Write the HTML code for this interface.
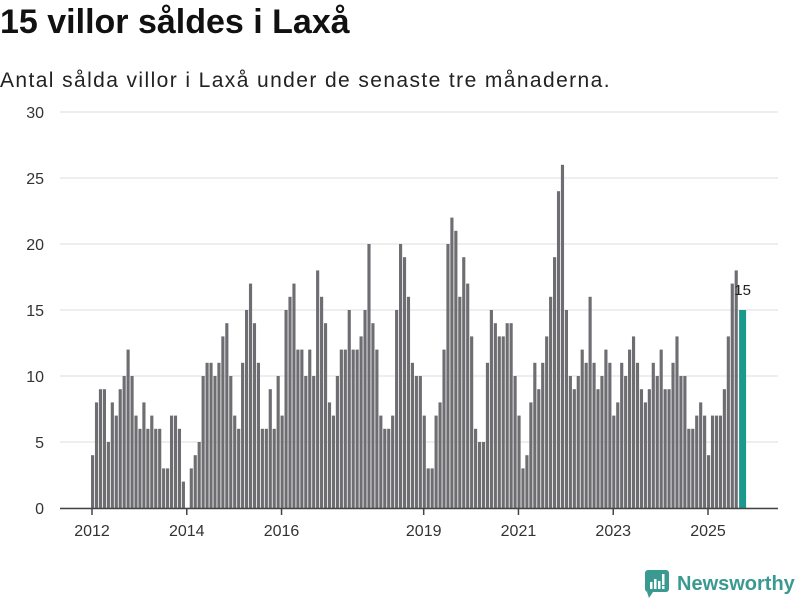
<!DOCTYPE html>
<html><head><meta charset="utf-8"><style>
body{margin:0;width:800px;height:600px;background:#fff;font-family:"Liberation Sans",sans-serif;overflow:hidden;position:relative}
h1{position:absolute;left:0;top:3px;margin:0;font-size:34px;font-weight:bold;color:#111;white-space:nowrap}
.sub{position:absolute;left:0;top:69px;font-size:21px;letter-spacing:1.4px;color:#222;white-space:nowrap}
</style></head><body>
<h1>15 villor såldes i Laxå</h1>
<div class="sub">Antal sålda villor i Laxå under de senaste tre månaderna.</div>
<svg id="c" width="800" height="600" style="position:absolute;left:0;top:0"></svg>
<div style="position:absolute;left:645px;top:570px;display:flex;align-items:center">
<svg width="24" height="28"><rect x="0" y="0" width="24" height="22" rx="3" fill="#3a9a91"/><polygon points="2,22 8,22 4,28" fill="#3a9a91"/><rect x="5" y="12" width="2.5" height="7" fill="#fff"/><rect x="9" y="9" width="2.5" height="10" fill="#fff"/><rect x="13" y="11" width="2.5" height="8" fill="#fff"/><rect x="17" y="4" width="2.5" height="11" fill="#fff"/><rect x="17" y="16" width="2.5" height="3" fill="#fff"/></svg>
<span style="color:#3a9a91;font-size:20px;font-weight:bold;margin-left:8px">Newsworthy</span></div>
<script>
const values=[4,8,9,9,5,8,7,9,10,12,10,7,
6,8,6,7,6,6,3,3,7,7,6,2,
0,3,4,5,10,11,11,10,11,13,14,10,
7,6,11,15,17,14,11,6,6,9,6,10,
7,15,16,17,12,12,10,12,10,18,16,14,
8,7,10,12,12,15,12,12,13,15,20,14,
12,7,6,6,7,15,20,19,16,11,10,10,
7,3,3,7,8,12,20,22,21,16,19,17,
13,6,5,5,11,15,14,13,13,14,14,10,
7,3,4,8,11,9,11,13,16,19,24,26,
15,10,9,10,12,11,16,11,9,10,12,11,
7,8,11,10,12,13,11,9,8,9,11,10,
12,9,9,11,13,10,10,6,6,7,8,7,
4,7,7,7,9,13,17,18,15];
const yTicks=[0,5,10,15,20,25,30];
const xTickYears=[2012,2014,2016,2019,2021,2023,2025];
const svg=document.getElementById('c');const NS='http://www.w3.org/2000/svg';
const y=v=>508-v*(396/30);
const step=(708-92)/156;
const x=i=>91+i*step;
const xYear=yr=>92+(yr-2012)*12*step;
function mk(t,a){const e=document.createElementNS(NS,t);for(const k in a)e.setAttribute(k,a[k]);svg.appendChild(e);return e;}
yTicks.forEach(v=>{
const g=mk('line',{x1:60,x2:778,y1:y(v),y2:y(v),stroke:'#ddd','stroke-width':1});


const t=mk('text',{x:44,y:y(v)+6,'text-anchor':'end','font-size':16,fill:'#333','font-family':'Liberation Sans'});t.textContent=v;


});
values.forEach((v,i)=>{
const last=i===values.length-1;
const r=mk('rect',{x:last?x(i)+0.5:x(i),y:y(v),width:last?7:step-0.8,height:508-y(v),fill:last?'#1a9a8c':'#6e6d72'});


});
const li=values.length-1;
const lb=mk('text',{x:x(li)+4,y:y(values[li])-15,'text-anchor':'middle','font-size':15,fill:'#222','font-family':'Liberation Sans'});lb.textContent=values[li];


const ax=mk('line',{x1:60,x2:778,y1:508.5,y2:508.5,stroke:'#444','stroke-width':1.5});


xTickYears.forEach(yr=>{
const tk=mk('line',{x1:xYear(yr),x2:xYear(yr),y1:508,y2:515,stroke:'#444','stroke-width':1.5});


const t=mk('text',{x:xYear(yr),y:536,'text-anchor':'middle','font-size':16,fill:'#333','font-family':'Liberation Sans'});t.textContent=yr;


});
</script>
</body></html>
